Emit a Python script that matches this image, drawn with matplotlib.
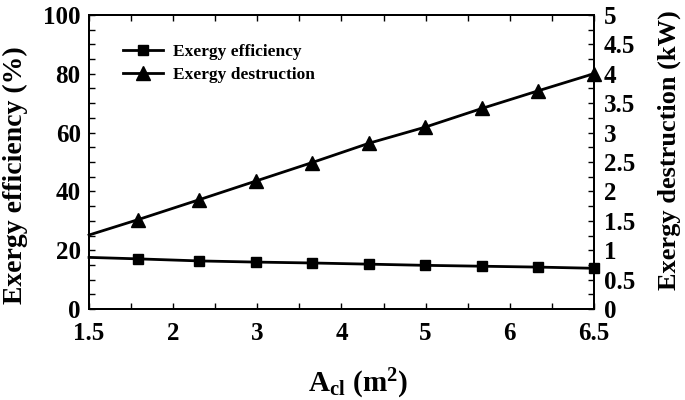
import matplotlib
matplotlib.use("Agg")
import matplotlib.pyplot as plt
from matplotlib.ticker import MultipleLocator, FixedLocator

plt.rcParams['font.family'] = ['Liberation Serif', 'DejaVu Serif']
plt.rcParams['font.weight'] = 'bold'
plt.rcParams['axes.labelweight'] = 'bold'
plt.rcParams['mathtext.fontset'] = 'custom'
plt.rcParams['mathtext.rm'] = 'Liberation Serif:weight=bold'
plt.rcParams['mathtext.it'] = 'Liberation Serif:weight=bold'
plt.rcParams['mathtext.bf'] = 'Liberation Serif:weight=bold'

# data (x in axis units, first point sits on the left spine)
x = [1.0, 1.58, 2.31, 2.99, 3.65, 4.33, 4.99, 5.67, 6.34, 7.0]
efficiency = [17.6, 17.1, 16.4, 16.0, 15.7, 15.3, 14.9, 14.6, 14.3, 13.9]
destruction = [1.26, 1.52, 1.86, 2.18, 2.49, 2.82, 3.09, 3.41, 3.71, 4.0]

xtick_pos = [1, 2, 3, 4, 5, 6, 7]
xtick_labels = ['1.5', '2', '3', '4', '5', '6', '6.5']
y2ticks = [0, 0.5, 1, 1.5, 2, 2.5, 3, 3.5, 4, 4.5, 5]
y2tick_labels = ['0', '0.5', '1', '1.5', '2', '2.5', '3', '3.5', '4', '4.5', '5']

fig = plt.figure(figsize=(6.85, 4.0), dpi=100)
ax = fig.add_axes([0.130, 0.227, 0.737, 0.736])
ax2 = ax.twinx()

l1, = ax.plot(x, efficiency, color='black', lw=2, marker='s', ms=7.5,
              markevery=slice(1, None), clip_on=False)
l2, = ax2.plot(x, destruction, color='black', lw=2, marker='^', ms=9.5,
               markevery=slice(1, None), clip_on=False)

ax.set_xlim(1, 7)
ax.set_ylim(0, 100)
ax2.set_ylim(0, 5)

ax.xaxis.set_major_locator(FixedLocator(xtick_pos))
ax.set_xticklabels(xtick_labels)
ax.xaxis.set_minor_locator(MultipleLocator(0.5))
ax.yaxis.set_major_locator(MultipleLocator(20))
ax.yaxis.set_minor_locator(MultipleLocator(5))
ax2.set_yticks(y2ticks)
ax2.set_yticklabels(y2tick_labels)
ax2.yaxis.set_minor_locator(MultipleLocator(0.25))

ax.tick_params(axis='both', which='both', direction='in', length=4, width=1,
               top=True, labelsize=18)
ax.tick_params(axis='x', pad=9)
ax.tick_params(axis='y', pad=6)
ax2.tick_params(axis='y', which='both', direction='in', length=4, width=1,
                labelsize=18, pad=7)

for a in (ax, ax2):
    for s in a.spines.values():
        s.set_linewidth(1.4)

ax.set_ylabel('Exergy efficiency (%)', fontsize=20)
ax2.set_ylabel('Exergy destruction (kW)', fontsize=19)
ax.set_xlabel(r'$\mathregular{A_{cl}\ (m^2)}$', fontsize=21)
ax.yaxis.set_label_coords(-0.12, 0.456)
ax2.yaxis.set_label_coords(1.127, 0.542)
ax.xaxis.set_label_coords(0.533, -0.195)

ax.legend([l1, l2], ['Exergy efficiency', 'Exergy destruction'],
          loc='upper left', bbox_to_anchor=(0.067, 0.90), frameon=False,
          borderpad=0, borderaxespad=0, handlelength=2.3, handletextpad=0.6,
          labelspacing=0.4, prop={'size': 12.5, 'weight': 'bold'})

plt.savefig('out.png', dpi=100)
